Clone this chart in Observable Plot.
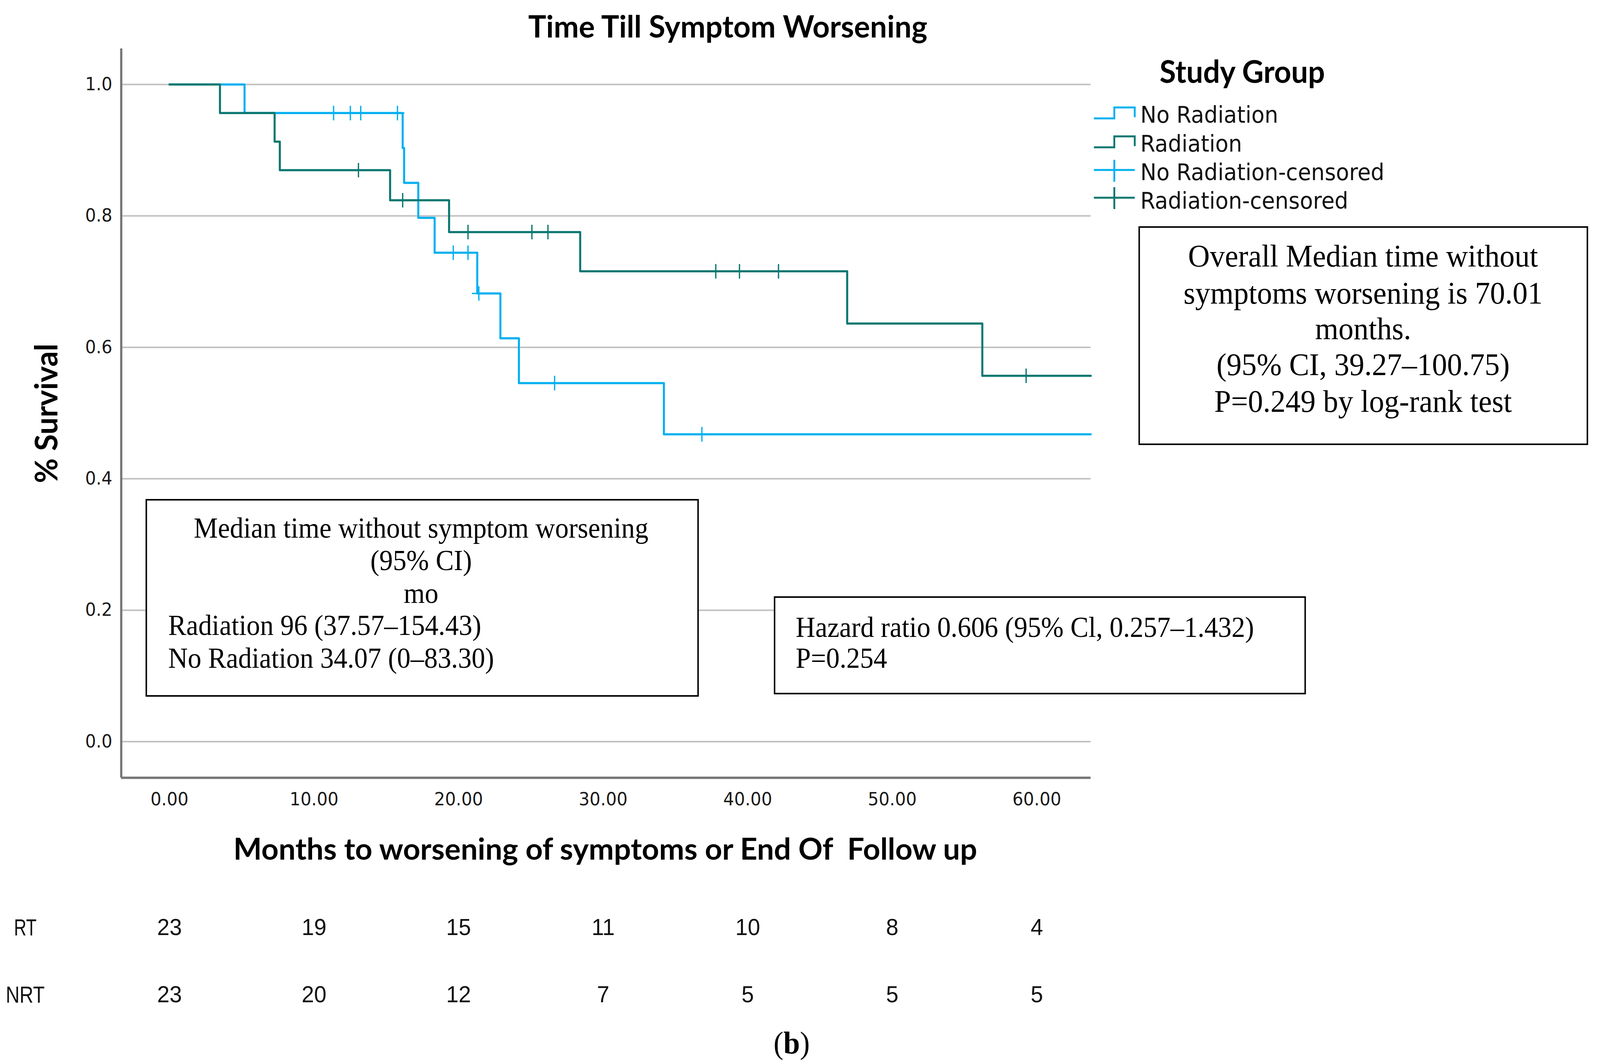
<!DOCTYPE html>
<html>
<head>
<meta charset="utf-8">
<script src="https://cdn.jsdelivr.net/npm/d3@7"></script>
<script src="https://cdn.jsdelivr.net/npm/@observablehq/plot@0.6"></script>
<style>
html,body{margin:0;padding:0;background:#fff;overflow:hidden;}
#wrap{position:relative;width:4309px;height:2723px;overflow:hidden;background:#fff;transform-origin:0 0;}
#wrap > svg{position:absolute;left:0;top:0;}
</style>
</head>
<body>
<div id="wrap"></div>
<script>
// ---------- data ----------
const xTicks = [0, 10, 20, 30, 40, 50, 60];
const yTicks = [0, 0.2, 0.4, 0.6, 0.8, 1.0];

// Radiation (step points: time, survival after the step)
const radiationTimes    = [0, 3.49, 7.27, 7.63, 15.26, 19.34, 28.41, 46.88, 56.23, 63.73];
const radiationSurvival = [1, 0.9565, 0.913, 0.8696, 0.8238, 0.7754, 0.7157, 0.6362, 0.5567, 0.5567];
const radiationCensorTimes    = [13.07, 16.13, 20.65, 25.07, 26.18, 37.79, 39.43, 42.13, 59.26];
const radiationCensorSurvival = [0.8696, 0.8238, 0.7754, 0.7754, 0.7754, 0.7157, 0.7157, 0.7157, 0.5567];

// No Radiation
const noRadiationTimes    = [0, 5.19, 16.13, 16.23, 17.21, 18.34, 21.29, 22.89, 24.17, 34.2, 63.73];
const noRadiationSurvival = [1, 0.9565, 0.9034, 0.8502, 0.7971, 0.744, 0.682, 0.6138, 0.5456, 0.4677, 0.4677];
const noRadiationCensorTimes    = [11.35, 12.51, 13.23, 15.77, 19.63, 20.65, 21.40, 26.64, 36.83];
const noRadiationCensorSurvival = [0.9565, 0.9565, 0.9565, 0.9565, 0.744, 0.744, 0.682, 0.5456, 0.4677];

// Numbers at risk
const riskTimes = [0, 10, 20, 30, 40, 50, 60];
const riskRT  = [23, 19, 15, 11, 10, 8, 4];
const riskNRT = [23, 20, 12, 7, 5, 5, 5];

// ---------- build tables ----------
const zip = (ts, ss) => ts.map((t, i) => ({t, s: ss[i]}));
const radSteps = zip(radiationTimes, radiationSurvival);
const noRadSteps = zip(noRadiationTimes, noRadiationSurvival);
const radCens = zip(radiationCensorTimes, radiationCensorSurvival);
const noRadCens = zip(noRadiationCensorTimes, noRadiationCensorSurvival);
const risk = riskTimes.map((t, i) => ({t, rt: riskRT[i], nrt: riskNRT[i]}));

const blue = "#00b0f0";
const teal = "#0b7770";
const xDomain = [-3.34, 63.73];
const yDomain = [-0.055, 1.0545];

const chart = Plot.plot({
  width: 4309,
  height: 2723,
  marginLeft: 326,
  marginRight: 1372,
  marginTop: 124,
  marginBottom: 733,
  style: {background: "white", fontFamily: "DejaVu Sans", fontSize: "46px", color: "#1a1a1a", overflow: "visible"},
  x: {domain: xDomain, ticks: xTicks, tickFormat: d3.format(".2f"), tickSize: 0, tickPadding: 38, label: null},
  y: {domain: yDomain, ticks: yTicks, tickFormat: d3.format(".1f"), tickSize: 0, tickPadding: 24, label: null},
  marks: [
    Plot.ruleY(yTicks, {stroke: "#c2c2c2", strokeWidth: 4}),
    Plot.ruleX([xDomain[0]], {stroke: "#767676", strokeWidth: 6}),
    Plot.ruleY([yDomain[0]], {stroke: "#767676", strokeWidth: 6}),
    Plot.line(noRadSteps, {x: "t", y: "s", curve: "step-after", stroke: blue, strokeWidth: 5.5}),
    Plot.line(radSteps, {x: "t", y: "s", curve: "step-after", stroke: teal, strokeWidth: 5.5}),
    Plot.dot(noRadCens, {x: "t", y: "s", symbol: "plus", r: 12, stroke: blue, strokeWidth: 3.5}),
    Plot.dot(radCens, {x: "t", y: "s", symbol: "plus", r: 12, stroke: teal, strokeWidth: 3.5}),
    Plot.text(risk, {x: "t", text: "rt", frameAnchor: "bottom", dy: 402, fontSize: 60, fontFamily: "Liberation Sans", fill: "#111"}),
    Plot.text(risk, {x: "t", text: "nrt", frameAnchor: "bottom", dy: 574, fontSize: 60, fontFamily: "Liberation Sans", fill: "#111"})
  ]
});
const wrap = document.getElementById("wrap");
wrap.appendChild(chart);

// ---------- annotations, titles, legend ----------
const overlay = `
<svg xmlns="http://www.w3.org/2000/svg" width="4309" height="2723" style="position:absolute;left:0;top:0;pointer-events:none">
  <g font-family="Lato" font-weight="700" fill="#000">
    <text x="1960" y="96" font-size="78" text-anchor="middle" textLength="1075" lengthAdjust="spacingAndGlyphs">Time Till Symptom Worsening</text>
    <text transform="translate(155,1058) rotate(-90)" font-size="84" text-anchor="middle" textLength="357" lengthAdjust="spacingAndGlyphs">% Survival</text>
    <text x="1630" y="2200" font-size="76" text-anchor="middle" textLength="2003" lengthAdjust="spacingAndGlyphs" style="white-space:pre">Months to worsening of symptoms or End Of  Follow up</text>
    <text x="3123" y="212" font-size="80" textLength="445" lengthAdjust="spacingAndGlyphs">Study Group</text>
  </g>
  <g fill="none" stroke-width="5">
    <path d="M2946,303 H3001 V275 H3056 V300" stroke="${blue}"/>
    <path d="M2946,377 H3001 V349 H3056 V374" stroke="${teal}"/>
    <path d="M2946,435 H3056 M3001,409 V465" stroke="${blue}"/>
    <path d="M2946,506 H3056 M3001,479 V535" stroke="${teal}"/>
  </g>
  <g font-family="DejaVu Sans" font-size="58" fill="#111">
    <text x="3071" y="314">No Radiation</text>
    <text x="3071" y="388">Radiation</text>
    <text x="3071" y="461">No Radiation-censored</text>
    <text x="3071" y="534">Radiation-censored</text>
  </g>
  <rect x="3068" y="581" width="1207" height="556" fill="#fff" stroke="#000" stroke-width="4"/>
  <g font-family="Liberation Serif" font-size="81" fill="#000" text-anchor="middle">
    <text x="3671" y="682">Overall Median time without</text>
    <text x="3671" y="777">symptoms worsening is 70.01</text>
    <text x="3671" y="868">months.</text>
    <text x="3671" y="960">(95% CI, 39.27–100.75)</text>
    <text x="3671" y="1054">P=0.249 by log-rank test</text>
  </g>
  <rect x="394" y="1279" width="1486" height="502" fill="#fff" stroke="#000" stroke-width="4"/>
  <g font-family="Liberation Serif" font-size="73" fill="#000">
    <text x="1134" y="1376" text-anchor="middle">Median time without symptom worsening</text>
    <text x="1134" y="1459" text-anchor="middle">(95% CI)</text>
    <text x="1134" y="1543" text-anchor="middle">mo</text>
    <text x="453" y="1625">Radiation 96 (37.57–154.43)</text>
    <text x="453" y="1709">No Radiation 34.07 (0–83.30)</text>
  </g>
  <rect x="2086" y="1528" width="1429" height="247" fill="#fff" stroke="#000" stroke-width="4"/>
  <g font-family="Liberation Serif" font-size="73" fill="#000">
    <text x="2143" y="1630">Hazard ratio 0.606 (95% Cl, 0.257–1.432)</text>
    <text x="2143" y="1709">P=0.254</text>
  </g>
  <g font-family="Liberation Sans" font-size="60" fill="#111" text-anchor="middle">
    <text x="68" y="2394" textLength="61" lengthAdjust="spacingAndGlyphs">RT</text>
    <text x="68" y="2566" textLength="105" lengthAdjust="spacingAndGlyphs">NRT</text>
  </g>
  <text x="2132" y="2696" text-anchor="middle" font-family="Liberation Serif" font-size="80" fill="#000">(<tspan font-weight="700">b</tspan>)</text>
</svg>`;
wrap.insertAdjacentHTML("beforeend", overlay);

// fit the 4309-wide design into the actual viewport width, keeping the full height
const vw = document.documentElement.clientWidth || window.innerWidth;
const kx = vw > 0 && vw < 4309 ? vw / 4309 : 1;
wrap.style.transform = `scale(${kx}, 1)`;
</script>
</body>
</html>
